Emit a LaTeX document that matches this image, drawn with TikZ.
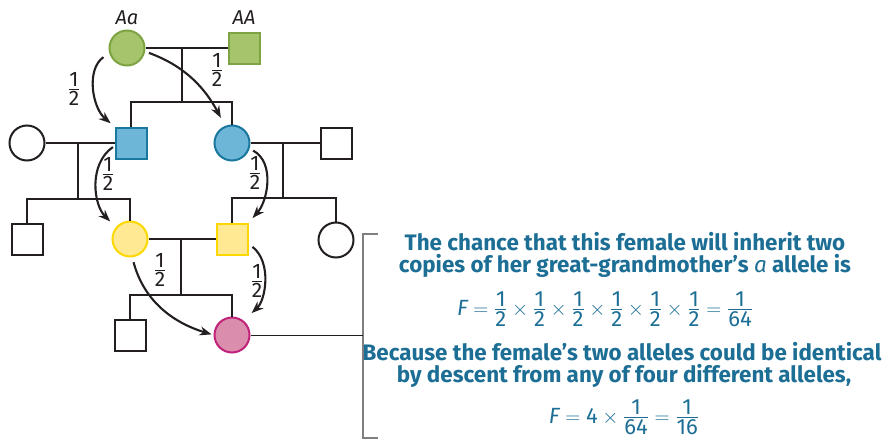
\documentclass[tikz,border=0pt]{standalone}
\usepackage{amsmath}
\usepackage{fontspec}
\setsansfont{Fira Sans}
\renewcommand{\familydefault}{\sfdefault}
\usetikzlibrary{arrows.meta}
\definecolor{pedline}{HTML}{231F20}
\definecolor{grfill}{HTML}{A6C46C}
\definecolor{grdraw}{HTML}{7DA343}
\definecolor{blfill}{HTML}{6DB6D8}
\definecolor{bldraw}{HTML}{1A779E}
\definecolor{yefill}{HTML}{FFE992}
\definecolor{yedraw}{HTML}{FDD800}
\definecolor{pkfill}{HTML}{DB8DAE}
\definecolor{pkdraw}{HTML}{C1227A}
\definecolor{txt}{HTML}{1C6E95}
\definecolor{brk}{HTML}{7F7F7F}
\newcommand{\fr}[2]{\genfrac{}{}{0.9pt}{1}{\mbox{#1}}{\mbox{#2}}}
\newcommand{\halfl}{$\fr{1}{2}$}
\newcommand{\tms}{\mathbin{\times}}
\newcommand{\eqs}{\mathrel{=}}
\begin{document}
\begin{tikzpicture}[x=1pt,y=1pt,
  ped/.style={line width=2.3pt, draw=pedline},
  female/.style={circle, minimum size=35pt, inner sep=0pt, line width=2pt},
  male/.style={rectangle, minimum size=31pt, inner sep=0pt, line width=2pt},
  open/.style={fill=white, draw=pedline},
  gr/.style={fill=grfill, draw=grdraw},
  bl/.style={fill=blfill, draw=bldraw},
  ye/.style={fill=yefill, draw=yedraw},
  pk/.style={fill=pkfill, draw=pkdraw},
  arr/.style={-{Stealth[length=12pt,width=9pt]}, line width=2.1pt, draw=pedline},
  frac/.style={text=pedline, inner sep=0pt, font=\fontsize{21}{22}\selectfont},
  geno/.style={text=pedline, inner sep=0pt, font=\fontsize{20}{21}\selectfont\itshape},
  btxt/.style={text=txt, inner sep=0pt, anchor=base, font=\fontsize{22.4}{23}\selectfont\bfseries},
  ftxt/.style={text=txt, inner sep=0pt, anchor=base, font=\fontsize{22}{23}\selectfont}
]
\useasboundingbox (0,0) rectangle (883,-439);

% symbols
\node[female,gr] (gm) at (127,-48) {};
\node[male,gr] (gf) at (244,-48) {};
\node[female,open] (lc) at (27,-143) {};
\node[male,bl] (bs) at (131,-143) {};
\node[female,bl] (bc) at (232,-143) {};
\node[male,open] (rs) at (336,-143) {};
\node[male,open] (ls) at (27,-239) {};
\node[female,ye] (yc) at (130,-239) {};
\node[male,ye] (ys) at (232,-239) {};
\node[female,open] (rc) at (336,-240) {};
\node[male,open] (bs3) at (130,-335) {};
\node[female,pk] (pc) at (232,-335) {};

\node[geno] (lgm) at (127,-18) {Aa};
\node[geno] (lgf) at (244,-18) {AA};

% pedigree lines
\coordinate (m1) at (182,-48);  \coordinate (s1) at (182,-102);
\coordinate (m2) at (78,-143);  \coordinate (s2) at (78,-199);
\coordinate (m3) at (283,-143); \coordinate (s3) at (283,-198);
\coordinate (m4) at (181,-239); \coordinate (s4) at (181,-295);

\draw[ped] (gm) -- (gf);
\draw[ped] (m1) -- (s1);
\draw[ped] (bs.north) |- (s1) -| (bc.north);

\draw[ped] (lc) -- (bs);
\draw[ped] (m2) -- (s2);
\draw[ped] (ls.north) |- (s2) -| (yc.north);

\draw[ped] (bc) -- (rs);
\draw[ped] (m3) -- (s3);
\draw[ped] (ys.north) |- (s3) -| (rc.north);

\draw[ped] (yc) -- (ys);
\draw[ped] (m4) -- (s4);
\draw[ped] (bs3.north) |- (s4) -| (pc.north);

% inheritance arrows
\draw[arr, shorten <=7pt, shorten >=5pt] (gm.196) to[out=215, in=140] (bs.north west);
\draw[arr, shorten <=4pt, shorten >=9pt] (gm.349) to[out=-20, in=118] (bc.112);
\draw[arr, shorten <=2pt, shorten >=8pt] (bs.190) to[out=215, in=135] (yc.140);
\draw[arr, shorten <=4pt, shorten >=6pt] (bc.342) to[out=-28, in=48] (ys.north east);
\draw[arr, shorten <=5pt, shorten >=2pt] (yc.277) to[out=-75, in=163] (pc.west);
\draw[arr, shorten <=5pt, shorten >=11pt] (ys.344) to[out=-38, in=42] (pc.52);

\node[frac] (h1) at (74,-89) {\halfl};
\node[frac] (h2) at (217,-70) {\halfl};
\node[frac] (h3) at (108,-174) {\halfl};
\node[frac] (h4) at (255,-173) {\halfl};
\node[frac] (h5) at (160,-270) {\halfl};
\node[frac] (h6) at (257,-281) {\halfl};

% bracket
\coordinate (bt) at (378,-234);
\coordinate (bb) at (378,-438);
\coordinate (bm) at (363,-335);
\draw[brk, line width=1.5pt] (bt) -- (363,-234) -- (363,-438) -- (bb);
\draw[pedline, line width=0.9pt] (pc.east) -- (bm);

% text
\node[btxt] (t1) at (625,-250) {The chance that this female will inherit two};
\node[btxt] (t2) at (625,-272) {copies of her great-grandmother’s {\mdseries\itshape a} allele is};
\node[ftxt] (f1) at (605,-315) {$\mbox{\itshape F}\eqs\fr{1}{2}\tms\fr{1}{2}\tms\fr{1}{2}\tms\fr{1}{2}\tms\fr{1}{2}\tms\fr{1}{2}\eqs\fr{1}{64}$};
\node[btxt] (t3) at (622,-360) {Because the female’s two alleles could be identical};
\node[btxt] (t4) at (624,-382) {by descent from any of four different alleles,};
\node[ftxt] (f2) at (624,-423) {$\mbox{\itshape F}\eqs\mbox{4}\tms\fr{1}{64}\eqs\fr{1}{16}$};
\end{tikzpicture}
\end{document}
